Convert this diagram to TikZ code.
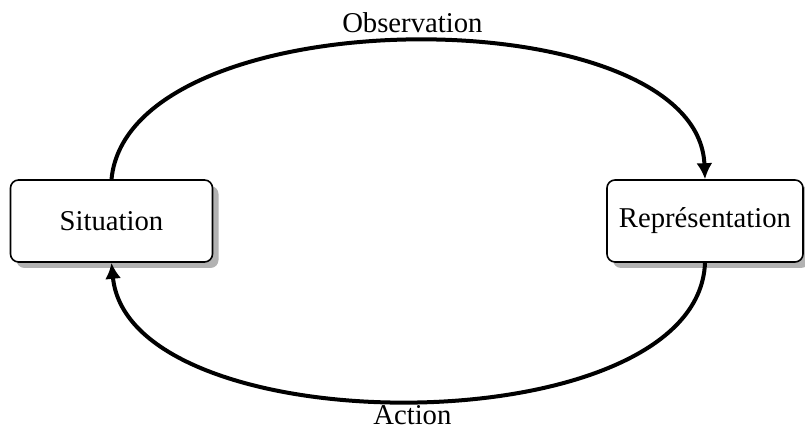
\documentclass[tikz,border=0pt]{standalone}
\usepackage{fontspec}
\setmainfont{Liberation Serif}
\usetikzlibrary{arrows.meta,shadows}

\begin{document}
\begin{tikzpicture}[
  x=0.5bp, y=0.5bp,
  box/.style={draw=black, line width=0.8pt, fill=white, rounded corners=4bp, minimum width=101bp, minimum height=41bp,
    font=\fontsize{14.4}{17}\selectfont,
    drop shadow={shadow xshift=3bp, shadow yshift=-3bp, fill=gray!60, opacity=1}},
  flow/.style={line width=2bp, -{Latex[length=8bp,width=8bp]}},
  lbl/.style={font=\fontsize{14.4}{17}\selectfont}
]
  \useasboundingbox (0,0) rectangle (805,429);

  % les deux etats
  \node[box] (sit) at (111.5,208) {Situation};
  \node[box, minimum width=98bp] (rep) at (705,208) {Représentation};

  % boucle observation / action
  \draw[flow] (sit.north) .. controls +(18,184) and +(-7,184) .. (rep.north)
    node[lbl, pos=0.5, above] (obs) {Observation};
  \draw[flow] (rep.south) .. controls +(-7,-184) and +(18,-184) .. (sit.south)
    node[lbl, pos=0.5, below, inner sep=1.5bp] (act) {Action};
\end{tikzpicture}
\end{document}
